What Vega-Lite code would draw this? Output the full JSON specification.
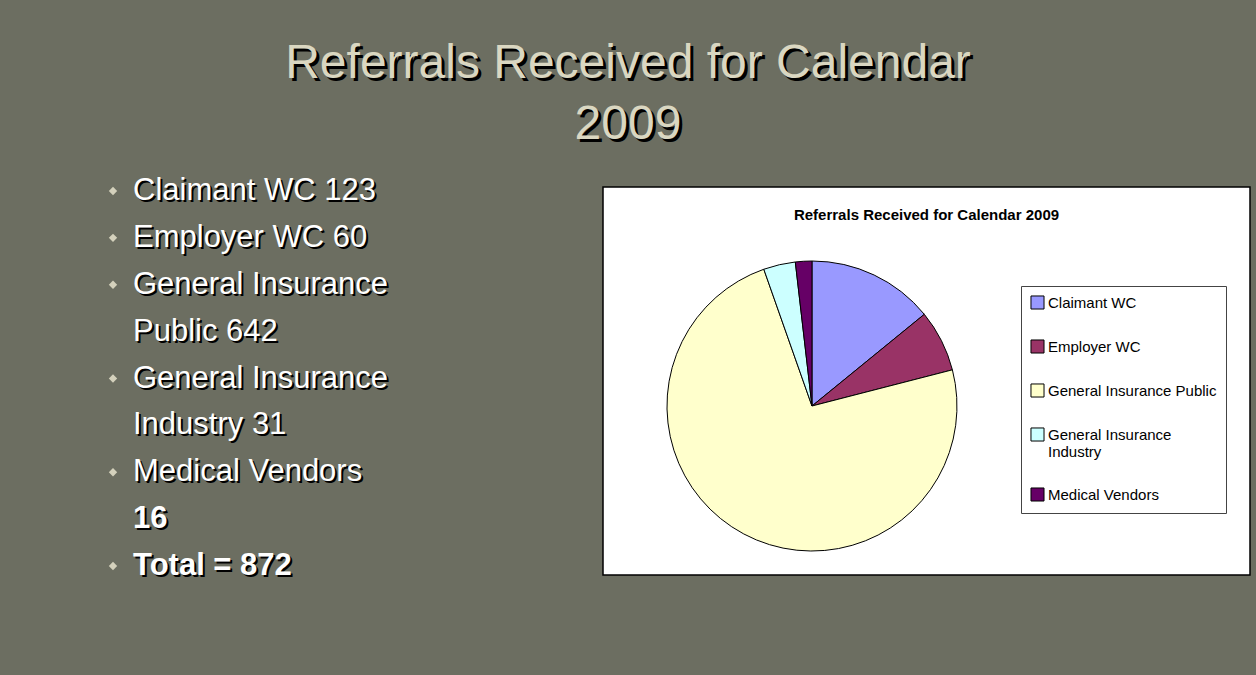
{
  "$schema": "https://vega.github.io/schema/vega-lite/v6.json",
  "background": "#6c6e61",
  "padding": {"left": 108, "top": 2, "right": 20, "bottom": 110},
  "spacing": 0,
  "bounds": "flush",
  "config": {"view": {"stroke": null}, "font": "Liberation Sans"},
  "vconcat": [
    {
      "width": 1030,
      "height": 185,
      "data": {"values": [
        {"line": 1, "text": "Referrals Received for Calendar"},
        {"line": 2, "text": "2009"}
      ]},
      "encoding": {
        "y": {"field": "line", "type": "ordinal", "scale": {"type": "point", "padding": 1.1}, "axis": null},
        "text": {"field": "text"}
      },
      "layer": [
        {"mark": {"type": "text", "fontSize": 48, "font": "Liberation Sans", "color": "#000000", "dx": 3, "dy": 3, "baseline": "middle"}},
        {"mark": {"type": "text", "fontSize": 48, "font": "Liberation Sans", "color": "#dad7c1", "baseline": "middle"}}
      ]
    },
    {
      "spacing": 20,
      "bounds": "flush",
      "hconcat": [
        {
          "width": 470,
          "height": 383,
          "data": {"values": [
            {"line": 1, "year": 2009, "text": "Claimant WC 123", "bullet": true, "kind": "item"},
            {"line": 2, "year": 2009, "text": "Employer WC 60", "bullet": true, "kind": "item"},
            {"line": 3, "year": 2009, "text": "General Insurance", "bullet": true, "kind": "item"},
            {"line": 4, "year": 2009, "text": "Public 642", "bullet": false, "kind": "item"},
            {"line": 5, "year": 2009, "text": "General Insurance", "bullet": true, "kind": "item"},
            {"line": 6, "year": 2009, "text": "Industry 31", "bullet": false, "kind": "item"},
            {"line": 7, "year": 2009, "text": "Medical Vendors", "bullet": true, "kind": "item"},
            {"line": 8, "year": 2009, "text": "16", "bullet": false, "kind": "count"},
            {"line": 9, "year": 2009, "text": "Total = 872", "bullet": true, "kind": "total"}
          ]},
          "encoding": {
            "y": {"field": "line", "type": "ordinal", "scale": {"type": "point", "padding": 0.085}, "axis": null},
            "x": {"field": "year", "type": "nominal", "scale": {"type": "point", "align": 0}, "axis": null}
          },
          "layer": [
            {
              "transform": [{"filter": "datum.bullet"}],
              "mark": {"type": "point", "shape": "diamond", "filled": true, "size": 70, "color": "#d4d1bc", "opacity": 1}
            },
            {
              "transform": [{"filter": "datum.kind === 'item'"}],
              "mark": {"type": "text", "align": "left", "baseline": "middle", "fontSize": 31, "font": "Liberation Sans", "color": "#000000", "dx": 22, "dy": 2},
              "encoding": {"text": {"field": "text"}}
            },
            {
              "transform": [{"filter": "datum.kind === 'item'"}],
              "mark": {"type": "text", "align": "left", "baseline": "middle", "fontSize": 31, "font": "Liberation Sans", "color": "#ffffff", "dx": 20},
              "encoding": {"text": {"field": "text"}}
            },
            {
              "transform": [{"filter": "datum.kind !== 'item'"}],
              "mark": {"type": "text", "align": "left", "baseline": "middle", "fontSize": 31, "font": "Liberation Sans", "fontWeight": "bold", "color": "#000000", "dx": 22, "dy": 2},
              "encoding": {"text": {"field": "text"}}
            },
            {
              "transform": [{"filter": "datum.kind !== 'item'"}],
              "mark": {"type": "text", "align": "left", "baseline": "middle", "fontSize": 31, "font": "Liberation Sans", "fontWeight": "bold", "color": "#ffffff", "dx": 20},
              "encoding": {"text": {"field": "text"}}
            }
          ]
        },
        {
          "width": 647,
          "height": 388,
          "view": {"fill": "#ffffff", "stroke": "#000000", "strokeWidth": 1.5},
          "title": {"text": "Referrals Received for Calendar 2009", "fontSize": 15, "fontWeight": "bold", "font": "Liberation Sans", "color": "#000000", "offset": -36, "anchor": "middle", "frame": "group"},
          "data": {"values": [
            {"source": "Claimant WC", "referrals": 123, "rank": 1, "year": 2009},
            {"source": "Employer WC", "referrals": 60, "rank": 2, "year": 2009},
            {"source": "General Insurance Public", "referrals": 642, "rank": 3, "year": 2009},
            {"source": "General Insurance Industry", "referrals": 31, "rank": 4, "year": 2009},
            {"source": "Medical Vendors", "referrals": 16, "rank": 5, "year": 2009}
          ]},
          "mark": {"type": "arc", "radius": 145, "stroke": "#000000", "strokeWidth": 1},
          "encoding": {
            "theta": {"field": "referrals", "type": "quantitative", "stack": true},
            "order": {"field": "rank", "type": "quantitative"},
            "x": {"field": "year", "type": "nominal", "axis": null, "scale": {"type": "band", "paddingInner": 0, "paddingOuter": 0.274, "align": 0}},
            "y": {"field": "year", "type": "nominal", "axis": null, "scale": {"type": "band", "paddingInner": 0, "paddingOuter": 0.074, "align": 1}},
            "color": {
              "field": "source",
              "type": "nominal",
              "scale": {
                "domain": ["Claimant WC", "Employer WC", "General Insurance Public", "General Insurance Industry", "Medical Vendors"],
                "range": ["#9999ff", "#993366", "#ffffcc", "#ccffff", "#660066"]
              },
              "legend": {
                "orient": "none",
                "legendX": 908,
                "legendY": 284,
                "title": null,
                "padding": 9,
                "rowPadding": 25,
                "symbolType": "square",
                "symbolSize": 170,
                "symbolStrokeColor": "#000000",
                "symbolStrokeWidth": 1,
                "labelFontSize": 15,
                "labelFont": "Liberation Sans",
                "labelColor": "#000000",
                "labelOffset": 3,
                "labelLimit": 260,
                "labelExpr": "datum.label == 'General Insurance Industry' ? ['General Insurance', 'Industry'] : datum.label",
                "strokeColor": "#444444",
                "fillColor": "#ffffff"
              }
            }
          }
        }
      ]
    }
  ]
}
